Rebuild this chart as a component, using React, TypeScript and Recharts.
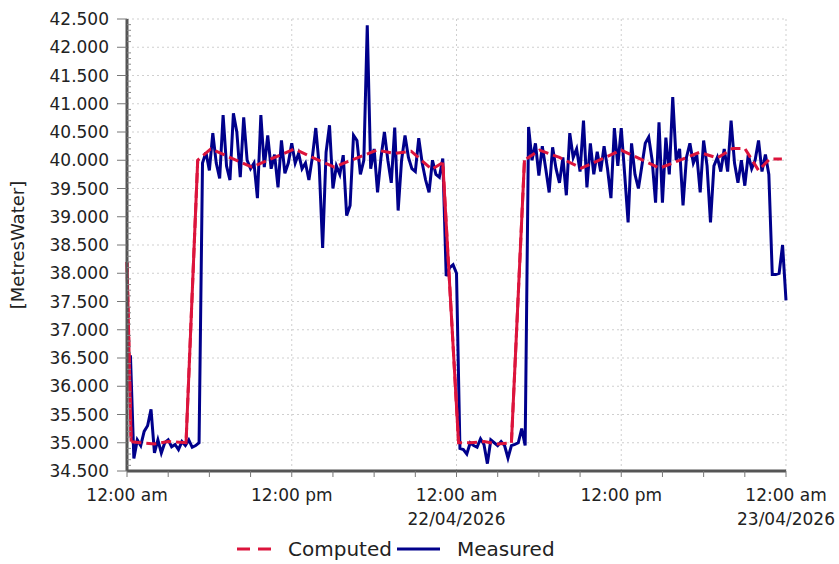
import React from 'react';
import { LineChart, Line, XAxis, YAxis, CartesianGrid, Legend } from 'recharts';

const FONT = '"DejaVu Sans", Verdana, sans-serif';

// Measured head (MetresWater), sampled every 15 minutes starting 00:15 on 21/04/2026
const measuredStartHour = 0.25;
const measuredStepHours = 0.25;
const measuredValues = [
  36.55, 34.72, 35.05, 34.95,
  35.2, 35.3, 35.59, 34.82,
  35.05, 34.82, 35.0, 35.05,
  34.93, 34.97, 34.88, 35.02,
  34.95, 35.05, 34.92, 34.95,
  35.0, 39.95, 40.14, 39.82,
  40.48, 39.95, 39.68, 40.8,
  39.9, 39.65, 40.83, 40.5,
  39.7, 40.76, 40.0, 39.85,
  39.95, 39.33, 40.8, 39.88,
  40.44, 39.85, 40.1, 39.52,
  40.35, 39.77, 39.95, 40.3,
  39.95, 40.12, 39.85, 39.95,
  39.65, 40.05, 40.57, 39.9,
  38.45, 40.14, 40.62, 39.5,
  39.9, 39.75, 40.09, 39.02,
  39.2, 40.44, 40.35, 39.75,
  40.0, 42.39, 39.85, 40.2,
  39.43, 40.05, 40.5, 40.0,
  39.6, 40.58, 39.11, 40.0,
  40.44, 40.05, 39.85, 39.8,
  40.39, 39.95, 39.65, 39.43,
  40.0, 39.75, 39.7, 40.03,
  37.95, 38.1, 38.15, 38.0,
  34.9, 34.88, 34.8, 35.0,
  34.95, 34.92, 35.07, 34.97,
  34.63, 35.05, 35.0, 34.95,
  35.02, 34.95, 34.73, 34.95,
  34.97, 35.0, 35.25, 34.95,
  40.59, 40.0, 40.3, 39.73,
  40.25, 39.85, 39.43, 40.23,
  39.85, 39.6, 40.05, 39.38,
  40.48, 40.05, 40.2, 39.8,
  40.7, 39.52, 40.3, 39.75,
  40.15, 39.8, 40.25, 39.85,
  39.33, 40.57, 39.9, 40.57,
  39.75, 38.9, 40.3, 39.75,
  39.5, 39.9, 40.3, 40.41,
  40.0, 39.25, 40.67, 39.25,
  40.4, 39.75, 41.12, 40.0,
  40.2, 39.2, 40.05, 40.3,
  39.95, 40.1, 39.43, 40.35,
  39.9, 38.9, 39.9, 40.05,
  39.8, 40.2, 39.8, 40.7,
  39.95, 39.6, 40.0, 39.55,
  40.1, 39.85, 40.0, 40.35,
  39.8, 40.1, 39.75, 37.98,
  37.98, 38.0, 38.5, 37.52,
];

// Computed head (MetresWater)
const computedHours = [
  0, 0.3, 1, 2, 3, 4.3, 5.15, 6.1, 9.1, 12.2, 13.5, 15.1, 18.2, 19.5, 20.7, 22.2, 23.0,
  24.15, 25, 26, 27, 28.0, 28.95, 30.05, 31.5, 33.1, 36.0, 38.8, 41.7, 43.0, 44.1, 45.0,
  46.0, 46.8, 47.7,
];
const computedValues = [
  38.2, 35.02, 35.0, 34.98, 35.02, 35.0, 40.0, 40.2, 39.88, 40.2, 40.05, 39.88, 40.18, 40.12,
  40.16, 39.84, 39.96,
  35.0, 35.0, 35.02, 34.98, 35.0, 40.0, 40.18, 40.05, 39.86, 40.18, 39.86, 40.14, 40.04,
  40.21, 40.21, 39.82, 40.02, 40.02,
];

const yMajorTicks = [
  34.5, 35.0, 35.5, 36.0, 36.5, 37.0, 37.5, 38.0, 38.5, 39.0, 39.5, 40.0, 40.5, 41.0, 41.5,
  42.0, 42.5,
];
const yMinorSubdivisions = 5;
const xTickHours = [0, 3, 6, 9, 12, 15, 18, 21, 24, 27, 30, 33, 36, 39, 42, 45, 48];
const xLabelHours = [0, 12, 24, 36, 48];
const xTimeLabels = ['12:00 am', '12:00 pm', '12:00 am', '12:00 pm', '12:00 am'];
const xDateLabels = ['', '', '22/04/2026', '', '23/04/2026'];

const measuredData = measuredValues.map((v, i) => ({
  t: measuredStartHour + i * measuredStepHours,
  v,
}));
const computedData = computedHours.map((t, i) => ({ t, v: computedValues[i] }));

// The source chart draws the steep transitions of the computed series as a solid stroke.
const STEEP_JUMP = 1;
const isSteep = (i: number) =>
  i >= 0 &&
  i < computedValues.length - 1 &&
  Math.abs(computedValues[i + 1] - computedValues[i]) > STEEP_JUMP;
const computedSteepData = computedData.map((d, i) => ({
  t: d.t,
  v: isSteep(i) || isSteep(i - 1) ? d.v : null,
}));

const yAllTicks: number[] = [];
yMajorTicks.forEach((m, i) => {
  if (i === yMajorTicks.length - 1) {
    yAllTicks.push(m);
    return;
  }
  const step = (yMajorTicks[i + 1] - m) / yMinorSubdivisions;
  for (let k = 0; k < yMinorSubdivisions; k++) yAllTicks.push(+(m + k * step).toFixed(3));
});

const MEASURED_COLOR = '#00008B';
const COMPUTED_COLOR = '#DC143C';
const AXIS_COLOR = '#555555';
const TEXT_COLOR = '#222222';

const Y_TICK_SIZE = 10;
const Y_TICK_MARGIN = 8;
const X_TICK_SIZE = 6;
const X_TICK_MARGIN = 8;

const YTick = (props: any) => {
  const { x, y, payload } = props;
  const v = payload.value as number;
  const axisX = x + Y_TICK_SIZE + Y_TICK_MARGIN;
  const major = yMajorTicks.some((m) => Math.abs(m - v) < 1e-6);
  return (
    <g>
      {major ? (
        <line x1={axisX - Y_TICK_SIZE} x2={axisX} y1={y} y2={y} stroke="#777" strokeWidth={1} />
      ) : (
        <line x1={axisX} x2={axisX + 4} y1={y} y2={y} stroke="#888" strokeWidth={1} />
      )}
      {major && (
        <text
          x={x}
          y={y}
          dy="0.36em"
          textAnchor="end"
          fontSize={17}
          fontFamily={FONT}
          fill={TEXT_COLOR}
        >
          {v.toFixed(3)}
        </text>
      )}
    </g>
  );
};

const XTick = (props: any) => {
  const { x, y, payload } = props;
  const axisY = y - X_TICK_SIZE - X_TICK_MARGIN;
  const idx = xLabelHours.indexOf(payload.value);
  return (
    <g>
      <line x1={x} x2={x} y1={axisY} y2={axisY + X_TICK_SIZE} stroke="#777" strokeWidth={1} />
      {idx >= 0 && (
        <text x={x} y={axisY + 30} textAnchor="middle" fontSize={17} fontFamily={FONT} fill={TEXT_COLOR}>
          {xTimeLabels[idx]}
        </text>
      )}
      {idx >= 0 && xDateLabels[idx] && (
        <text x={x} y={axisY + 54} textAnchor="middle" fontSize={17} fontFamily={FONT} fill={TEXT_COLOR}>
          {xDateLabels[idx]}
        </text>
      )}
    </g>
  );
};

const LegendContent = () => (
  <div
    style={{
      display: 'flex',
      alignItems: 'center',
      paddingLeft: 237,
      marginTop: 9,
      height: 34,
      fontFamily: FONT,
      fontSize: 20,
      color: TEXT_COLOR,
    }}
  >
    <svg width={36} height={10} style={{ display: 'block' }}>
      <line x1={0} x2={36} y1={5} y2={5} stroke={COMPUTED_COLOR} strokeWidth={3} strokeDasharray="13 8" />
    </svg>
    <span style={{ marginLeft: 15 }}>Computed</span>
    <svg width={43} height={10} style={{ display: 'block', marginLeft: 5 }}>
      <line x1={0} x2={43} y1={5} y2={5} stroke={MEASURED_COLOR} strokeWidth={3} />
    </svg>
    <span style={{ marginLeft: 17 }}>Measured</span>
  </div>
);

export default function App() {
  return (
    <div style={{ position: 'absolute', left: 0, top: 0, width: 839, height: 564, background: '#fff' }}>
      <LineChart width={839} height={564} margin={{ top: 19, right: 53, left: 0, bottom: 7 }}>
        <CartesianGrid
          stroke="#cfcfcf"
          strokeDasharray="2 3"
          horizontalValues={yMajorTicks}
          verticalValues={xLabelHours}
        />
        <XAxis
          dataKey="t"
          type="number"
          domain={[0, 48]}
          ticks={xTickHours}
          interval={0}
          height={52}
          tickSize={X_TICK_SIZE}
          tickMargin={X_TICK_MARGIN}
          tickLine={false}
          tick={<XTick />}
          axisLine={{ stroke: AXIS_COLOR, strokeWidth: 3 }}
          allowDuplicatedCategory={false}
        />
        <YAxis
          type="number"
          domain={[34.5, 42.5]}
          ticks={yAllTicks}
          interval={0}
          width={127}
          tickSize={Y_TICK_SIZE}
          tickMargin={Y_TICK_MARGIN}
          tickLine={false}
          tick={<YTick />}
          axisLine={{ stroke: AXIS_COLOR, strokeWidth: 3 }}
          label={{
            value: '[MetresWater]',
            angle: -90,
            position: 'insideLeft',
            offset: 18,
            style: { textAnchor: 'middle', fontSize: 18, fontFamily: FONT, fill: TEXT_COLOR },
          }}
        />
        <Legend verticalAlign="bottom" height={34} content={<LegendContent />} />
        <Line
          data={measuredData}
          dataKey="v"
          name="Measured"
          type="linear"
          stroke={MEASURED_COLOR}
          strokeWidth={3}
          dot={false}
          activeDot={false}
          isAnimationActive={false}
        />
        <Line
          data={computedData}
          dataKey="v"
          name="Computed"
          type="linear"
          stroke={COMPUTED_COLOR}
          strokeWidth={3}
          strokeDasharray="10 5"
          dot={false}
          activeDot={false}
          isAnimationActive={false}
        />
        <Line
          data={computedSteepData}
          dataKey="v"
          name="Computed transitions"
          legendType="none"
          type="linear"
          stroke={COMPUTED_COLOR}
          strokeWidth={3}
          connectNulls={false}
          dot={false}
          activeDot={false}
          isAnimationActive={false}
        />
      </LineChart>
    </div>
  );
}
